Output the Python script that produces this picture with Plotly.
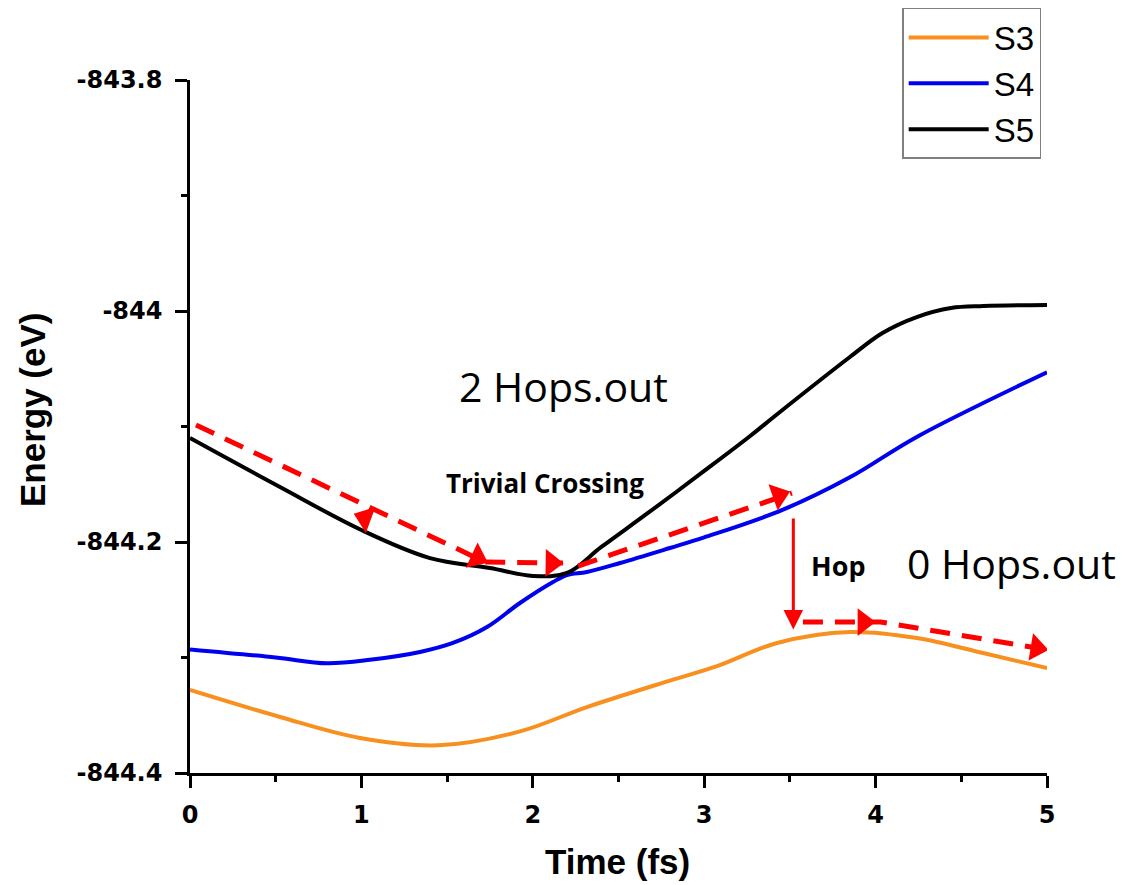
import plotly.graph_objects as go

# ---------------- data ----------------
s3_t = [0, 0.525, 0.992, 1.45, 1.925, 2.316, 2.80, 3.075, 3.425, 3.85, 4.242, 4.627, 5.0]
s3_e = [-844.3281, -844.3515, -844.3697, -844.3760, -844.3640, -844.3429, -844.3200, -844.3075,
        -844.2874, -844.2779, -844.2831, -844.2961, -844.3091]

s4_t = [0, 0.5, 0.8, 1.05, 1.342, 1.534, 1.733, 1.925, 2.118, 2.2, 2.316, 2.509, 2.80, 3.0, 3.46, 3.85, 4.24, 5.0]
s4_e = [-844.293, -844.300, -844.305, -844.302, -844.2952, -844.2874, -844.2736, -844.2528,
        -844.2346, -844.2286, -844.2260, -844.2182, -844.2052, -844.196, -844.172, -844.144, -844.109, -844.053]

s5_t = [0, 0.525, 1.0, 1.40, 1.75, 2.0, 2.2, 2.4, 2.68, 3.0, 3.27, 3.42, 3.85, 4.04, 4.24, 4.44, 4.63, 5.0]
s5_e = [-844.110, -844.1524, -844.1896, -844.2139, -844.2225, -844.2294, -844.2268, -844.2043,
        -844.174, -844.1385, -844.108, -844.090, -844.0398, -844.019, -844.0052, -843.9974,
        -843.9957, -843.9948]

series_names = ["S3", "S4", "S5"]
series_colors = ["#F7901E", "#0000F0", "#000000"]

# red dashed trajectory paths
path1_t = [0.035, 1.721, 2.176]
path1_e = [-844.0987, -844.2173, -844.2182]
path2_t = [2.264, 3.512]
path2_e = [-844.2208, -844.1576]
path3_t = [3.576, 4.03, 5.0]
path3_e = [-844.2693, -844.2693, -844.2932]

# arrow heads: (from point, head point)
head_from_t = [1.721, 0.035, 1.721, 2.264, 3.576, 4.03]
head_from_e = [-844.2173, -844.0987, -844.2173, -844.2208, -844.2693, -844.2693]
head_t = [1.021, 1.675, 2.110, 3.435, 3.930, 4.940]
head_e = [-844.1792, -844.2136, -844.2182, -844.1597, -844.2693, -844.2917]

# hop arrow
hop_t = 3.52
hop_from_e = -844.1784
hop_to_e = -844.2758

x_ticks = [0, 1, 2, 3, 4, 5]
x_minor = [0.5, 1.5, 2.5, 3.5, 4.5]
y_ticks = [-843.8, -844.0, -844.2, -844.4]
y_ticktext = ["-843.8", "-844", "-844.2", "-844.4"]
y_minor = [-843.9, -844.1, -844.3]

# ---------------- figure ----------------
fig = go.Figure()

for name, t, e, c in zip(series_names, [s3_t, s4_t, s5_t], [s3_e, s4_e, s5_e], series_colors):
    fig.add_trace(go.Scatter(x=t, y=e, mode="lines", name=name,
                             line=dict(color=c, width=4, shape="spline", smoothing=1.0)))

for pt, pe in [(path1_t, path1_e), (path2_t, path2_e), (path3_t, path3_e)]:
    fig.add_trace(go.Scatter(x=pt, y=pe, mode="lines", showlegend=False, hoverinfo="skip",
                             line=dict(color="#FF0000", width=5, dash="20px,12px")))

for ft, fe, ht, he in zip(head_from_t, head_from_e, head_t, head_e):
    fig.add_trace(go.Scatter(x=[ft, ht], y=[fe, he], mode="markers", showlegend=False, hoverinfo="skip",
                             marker=dict(symbol="triangle-up", size=[0, 24], color="#FF0000", opacity=1,
                                         angleref="previous", line=dict(width=0))))

fig.add_annotation(x=hop_t, y=hop_to_e, ax=hop_t, ay=hop_from_e, xref="x", yref="y",
                   axref="x", ayref="y", showarrow=True, arrowhead=2, arrowsize=1.3,
                   arrowwidth=3, arrowcolor="#FF0000", text="")

txt_font = dict(family="Open Sans", color="black")
fig.add_annotation(x=2.182, y=-844.0649, text="2 Hops.out", showarrow=False,
                   font=dict(size=41, **txt_font))
fig.add_annotation(x=4.79, y=-844.2182, text="0 Hops.out", showarrow=False,
                   font=dict(size=41, **txt_font))
fig.add_annotation(x=2.071, y=-844.1490, text="<b>Trivial Crossing</b>", showarrow=False,
                   font=dict(size=26, **txt_font))
fig.add_annotation(x=3.78, y=-844.2200, text="<b>Hop</b>", showarrow=False,
                   font=dict(size=27, **txt_font))

ax_font = dict(family="Liberation Sans, Arial", size=35, color="black")
fig.add_annotation(x=0.4994, y=-0.128, xref="paper", yref="paper", text="<b>Time (fs)</b>",
                   xanchor="center", yanchor="middle", showarrow=False, font=ax_font)
fig.add_annotation(x=-0.183, y=0.524, xref="paper", yref="paper", text="<b>Energy (eV)</b>",
                   xanchor="center", yanchor="middle", showarrow=False, textangle=-90, font=ax_font)

tick_font = dict(family="DejaVu Sans", size=24, color="black", weight="bold")
common = dict(showline=True, linecolor="black", linewidth=2.5, ticks="outside", ticklen=12,
              tickwidth=2.5, tickcolor="black", showgrid=False, zeroline=False, tickfont=tick_font)

fig.update_xaxes(range=[0, 5], tickvals=x_ticks, ticklabelstandoff=6,
                 minor=dict(tickvals=x_minor, ticks="outside", ticklen=6, tickwidth=2.5, tickcolor="black"),
                 **common)
fig.update_yaxes(range=[-844.4, -843.8], tickvals=y_ticks, ticktext=y_ticktext, ticklabelstandoff=8,
                 minor=dict(tickvals=y_minor, ticks="outside", ticklen=6, tickwidth=2.5, tickcolor="black"),
                 **common)

fig.update_layout(
    width=1127, height=885,
    margin=dict(l=190, r=80, t=80, b=112, autoexpand=False),
    plot_bgcolor="white", paper_bgcolor="white",
    showlegend=True,
    legend=dict(x=0.831, y=1.104, xanchor="left", yanchor="top",
                bordercolor="#808080", borderwidth=1.5, bgcolor="white",
                font=dict(family="Liberation Sans, Arial", size=33, color="black"),
                itemwidth=80, tracegroupgap=0),
)

fig.write_html("out.html", config={"displayModeBar": False},
               post_script="document.body.style.margin='0';")
